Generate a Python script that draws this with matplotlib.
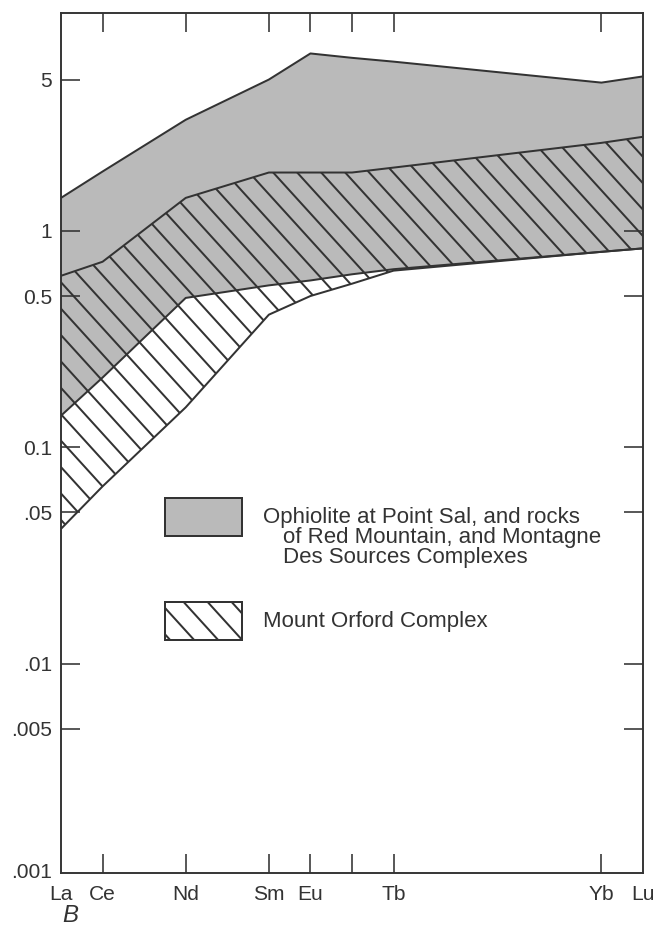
import numpy as np
import matplotlib
matplotlib.use('Agg')
import matplotlib.pyplot as plt
from matplotlib.patches import Rectangle
from matplotlib.lines import Line2D
from matplotlib.transforms import IdentityTransform

plt.rcParams['font.family'] = ['Liberation Sans', 'DejaVu Sans']

# element positions (La = 0 ... Lu = 14)
elements = ['La', 'Ce', 'Nd', 'Sm', 'Eu', 'Gd', 'Tb', 'Yb', 'Lu']
x_pos = [0, 1, 3, 5, 6, 7, 8, 13, 14]

# ophiolite band (stippled)
ophio_upper = [1.42, 1.88, 3.26, 5.0, 6.6, 6.3, 6.05, 4.84, 5.17]
ophio_lower = [0.14, 0.21, 0.49, 0.56, 0.59, 0.63, 0.665, 0.80, 0.83]

# Mount Orford band (hatched)
orford_upper = [0.62, 0.72, 1.42, 1.86, 1.86, 1.86, 1.96, 2.55, 2.72]
orford_lower = [0.042, 0.066, 0.153, 0.41, 0.50, 0.57, 0.655, 0.80, 0.83]

label_names = ['La', 'Ce', 'Nd', 'Sm', 'Eu', 'Tb', 'Yb', 'Lu']
label_pos = [0, 1, 3, 5, 6, 8, 13, 14]
tick_pos = [1, 3, 5, 6, 7, 8, 13]

y_ticks = [0.005, 0.01, 0.05, 0.1, 0.5, 1, 5]
y_labels = ['.005', '.01', '.05', '0.1', '0.5', '1', '5']
right_ticks = [0.005, 0.01, 0.05, 0.1, 0.5, 1]

ink = '#333333'
grey = '#bababa'
W, H = 653, 928


def add_hatch(ax, clip, clip_trans=None, step=24, slope=1.1):
    # diagonal lines in pixel space, clipped to a region
    for c in np.arange(0, W * slope + H + step * slope, step * slope):
        ln = Line2D([0, W], [c, c - slope * W], transform=IdentityTransform(),
                    color=ink, lw=1.0, zorder=2)
        ax.add_artist(ln)
        if clip_trans is None:
            ln.set_clip_path(clip)
        else:
            ln.set_clip_path(clip, clip_trans)


fig = plt.figure(figsize=(W / 144, H / 144), dpi=144)
ax = fig.add_axes([61 / W, 55 / H, 582 / W, 860 / H])

ax.set_yscale('log')
ax.set_xlim(0, 14)
ax.set_ylim(0.00108, 10.15)

ax.fill_between(x_pos, ophio_lower, ophio_upper, facecolor=grey,
                edgecolor='none', linewidth=0, zorder=1)
orf = ax.fill_between(x_pos, orford_lower, orford_upper, facecolor='none',
                      edgecolor='none', linewidth=0, zorder=2)
add_hatch(ax, orf.get_paths()[0], ax.transData)
for s in [ophio_upper, ophio_lower, orford_upper, orford_lower]:
    ax.plot(x_pos, s, color=ink, lw=1.0, zorder=3)

ax.set_yticks(y_ticks)
ax.set_yticklabels(y_labels)
ax.yaxis.set_minor_locator(matplotlib.ticker.NullLocator())
ax.tick_params(axis='y', direction='in', length=9.5, width=0.8, color=ink,
               labelsize=10.5, labelcolor=ink, pad=4.5)
ax.annotate('.001', xy=(0, 0), xycoords='axes fraction', xytext=(-4.5, 0),
            textcoords='offset points', ha='right', va='center',
            fontsize=10.5, color=ink)

ax.xaxis.remove_overlapping_locs = False
ax.set_xticks(label_pos)
ax.set_xticklabels(label_names)
ax.set_xticks(tick_pos, minor=True)
ax.tick_params(axis='x', which='major', length=0, labelsize=10.5,
               labelcolor=ink, pad=6)
ax.tick_params(axis='x', which='minor', direction='in', length=9.5,
               width=0.8, color=ink, top=True, bottom=True)

ax2 = ax.twinx()
ax2.set_yscale('log')
ax2.set_ylim(ax.get_ylim())
ax2.set_yticks(right_ticks)
ax2.yaxis.set_minor_locator(matplotlib.ticker.NullLocator())
ax2.tick_params(axis='y', direction='in', length=9.5, width=0.8, color=ink,
                labelright=False)

for a in [ax, ax2]:
    for sp in a.spines.values():
        sp.set_color(ink)
        sp.set_linewidth(0.8)

# legend
box_w = (242 - 165) / 582
box_h = 38 / 860
ax.add_patch(Rectangle(((165 - 61) / 582, (873 - 536) / 860), box_w, box_h,
                       transform=ax.transAxes, facecolor=grey, edgecolor=ink,
                       linewidth=1.0, zorder=4))
hbox = Rectangle(((165 - 61) / 582, (873 - 640) / 860), box_w, box_h,
                 transform=ax.transAxes, facecolor='none', edgecolor=ink,
                 linewidth=1.0, zorder=4)
ax.add_patch(hbox)
add_hatch(ax, hbox)

txt = dict(transform=ax.transAxes, fontsize=11.1, color=ink, va='center', ha='left')
ax.text((263 - 61) / 582, (873 - 518) / 860, 'Ophiolite at Point Sal, and rocks', **txt)
ax.text((283 - 61) / 582, (873 - 538) / 860, 'of Red Mountain, and Montagne', **txt)
ax.text((283 - 61) / 582, (873 - 558) / 860, 'Des Sources Complexes', **txt)
ax.text((263 - 61) / 582, (873 - 621) / 860, 'Mount Orford Complex', **txt)

fig.text(70 / W, 1 - 915 / H, 'B', fontsize=12, style='italic',
         color=ink, ha='center', va='center')

fig.savefig('out.png', dpi=144)
